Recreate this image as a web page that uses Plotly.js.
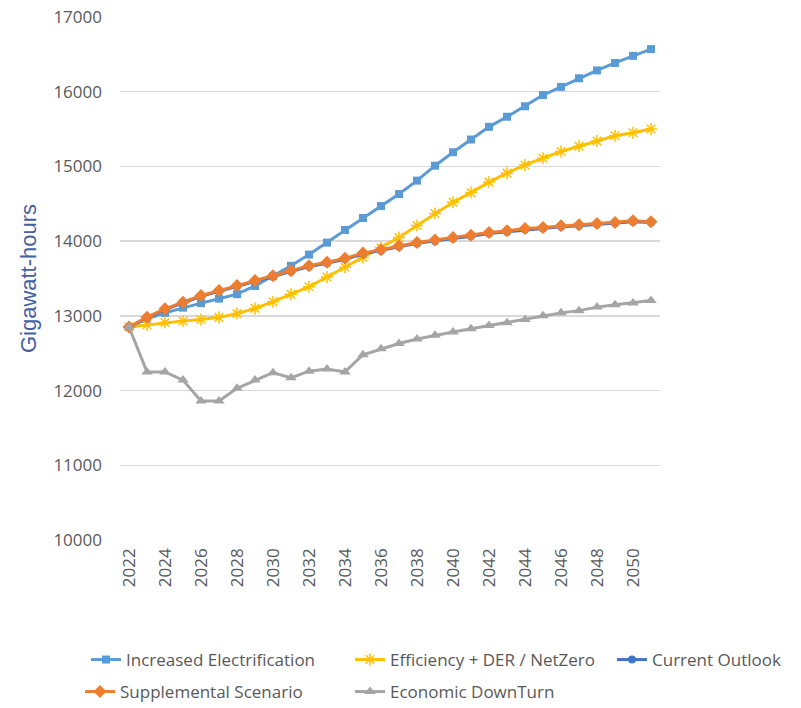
<!DOCTYPE html>
<html>
<head>
<meta charset="utf-8">
<script src="https://cdn.plot.ly/plotly-3.0.1.min.js"></script>
<style>
  html, body { margin: 0; padding: 0; background: #fff; }
  #chart { width: 801px; height: 708px; }
</style>
</head>
<body>
<div id="chart"></div>
<script>
// Forecast years (category axis)
const years = ['2022','2023','2024','2025','2026','2027','2028','2029','2030','2031',
               '2032','2033','2034','2035','2036','2037','2038','2039','2040','2041',
               '2042','2043','2044','2045','2046','2047','2048','2049','2050','2051'];

// Every other year is labelled on the axis
const yearTicks = ['2022','2024','2026','2028','2030','2032','2034','2036',
                   '2038','2040','2042','2044','2046','2048','2050'];

// Annual energy by scenario, GWh
const increasedElectrification = [12850, 12960, 13040, 13110, 13170, 13230, 13290, 13400, 13530, 13670,
                                  13820, 13980, 14150, 14310, 14470, 14630, 14810, 15010, 15190, 15360,
                                  15530, 15665, 15805, 15955, 16065, 16180, 16285, 16385, 16480, 16570];

const efficiencyDerNetZero = [12850, 12880, 12910, 12930, 12950, 12980, 13030, 13100, 13190, 13290,
                              13390, 13520, 13650, 13780, 13910, 14050, 14210, 14370, 14520, 14650,
                              14790, 14910, 15020, 15110, 15200, 15270, 15340, 15410, 15450, 15500];

const currentOutlook = [12850, 12975, 13085, 13175, 13262, 13328, 13395, 13462, 13528, 13595,
                        13660, 13705, 13758, 13828, 13872, 13925, 13970, 14000, 14035, 14065,
                        14102, 14124, 14155, 14170, 14192, 14205, 14225, 14238, 14258, 14248];

const supplementalScenario = [12850, 12983, 13094, 13183, 13272, 13338, 13405, 13472, 13538, 13605,
                              13672, 13717, 13770, 13840, 13885, 13938, 13983, 14014, 14050, 14080,
                              14117, 14138, 14170, 14183, 14205, 14218, 14237, 14250, 14272, 14258];

const economicDownturn = [12850, 12250, 12250, 12140, 11860, 11860, 12030, 12140, 12240, 12170,
                          12260, 12290, 12250, 12480, 12560, 12630, 12690, 12740, 12783, 12827,
                          12870, 12907, 12950, 13000, 13040, 13070, 13117, 13150, 13173, 13205];

function series(name, values, color, marker, legendId) {
  return {
    type: 'scatter',
    mode: 'lines+markers',
    name: name,
    legend: legendId,
    x: years,
    y: values,
    line: { color: color, width: 3 },
    marker: Object.assign({ color: color, size: 9 }, marker),
    hoverinfo: 'x+y+name'
  };
}

const traces = [
  series('Increased Electrification', increasedElectrification, '#5B9BD5',
         { symbol: 'square', size: 8 }, 'legend'),
  series('Efficiency + DER / NetZero', efficiencyDerNetZero, '#FFC000',
         { symbol: 'asterisk-open', size: 10, line: { color: '#FFC000', width: 1.5 } }, 'legend2'),
  series('Current Outlook', currentOutlook, '#4472C4',
         { symbol: 'circle', size: 8 }, 'legend3'),
  series('Supplemental Scenario', supplementalScenario, '#ED7D31',
         { symbol: 'diamond', size: 10 }, 'legend4'),
  series('Economic DownTurn', economicDownturn, '#A5A5A5',
         { symbol: 'triangle-up', size: 10 }, 'legend5')
];

// One legend box per entry so each can sit in its own column of the two-row key
function legendBox(xPx, yPx) {
  return {
    orientation: 'h',
    xref: 'container',
    yref: 'container',
    x: xPx / 801,
    xanchor: 'left',
    y: (708 - yPx) / 708,
    yanchor: 'middle',
    itemwidth: 30,
    font: { family: 'Open Sans, Liberation Sans, sans-serif', size: 17, color: '#595959' },
    bgcolor: 'rgba(0,0,0,0)'
  };
}

const layout = {
  width: 801,
  height: 708,
  margin: { l: 120, r: 141, t: 17, b: 168 },
  paper_bgcolor: '#ffffff',
  plot_bgcolor: '#ffffff',
  font: { family: 'Open Sans, Liberation Sans, sans-serif', color: '#595959', size: 14 },
  showlegend: true,
  xaxis: {
    type: 'category',
    range: [-0.5, 29.5],
    tickmode: 'array',
    tickvals: yearTicks,
    ticktext: yearTicks,
    tickangle: -90,
    tickfont: { size: 17, color: '#595959' },
    ticks: '',
    ticklabelstandoff: 4,
    showgrid: false,
    showline: false,
    zeroline: false
  },
  yaxis: {
    range: [10000, 17000],
    dtick: 1000,
    tick0: 10000,
    tickformat: 'd',
    tickfont: { size: 17, color: '#595959' },
    ticks: '',
    ticklabelstandoff: 17,
    showgrid: true,
    gridcolor: '#D9D9D9',
    gridwidth: 1.3,
    zeroline: false,
    showline: false,
    title: {
      text: 'Gigawatt-hours',
      font: { family: 'Liberation Sans, Arial, sans-serif', size: 22, color: '#44609F' },
      standoff: 10
    }
  },
  legend: legendBox(86, 660),
  legend2: legendBox(350, 660),
  legend3: legendBox(612, 660),
  legend4: legendBox(80, 692),
  legend5: legendBox(350, 692)
};

Plotly.newPlot('chart', traces, layout, { displayModeBar: false, staticPlot: true });
</script>
</body>
</html>
